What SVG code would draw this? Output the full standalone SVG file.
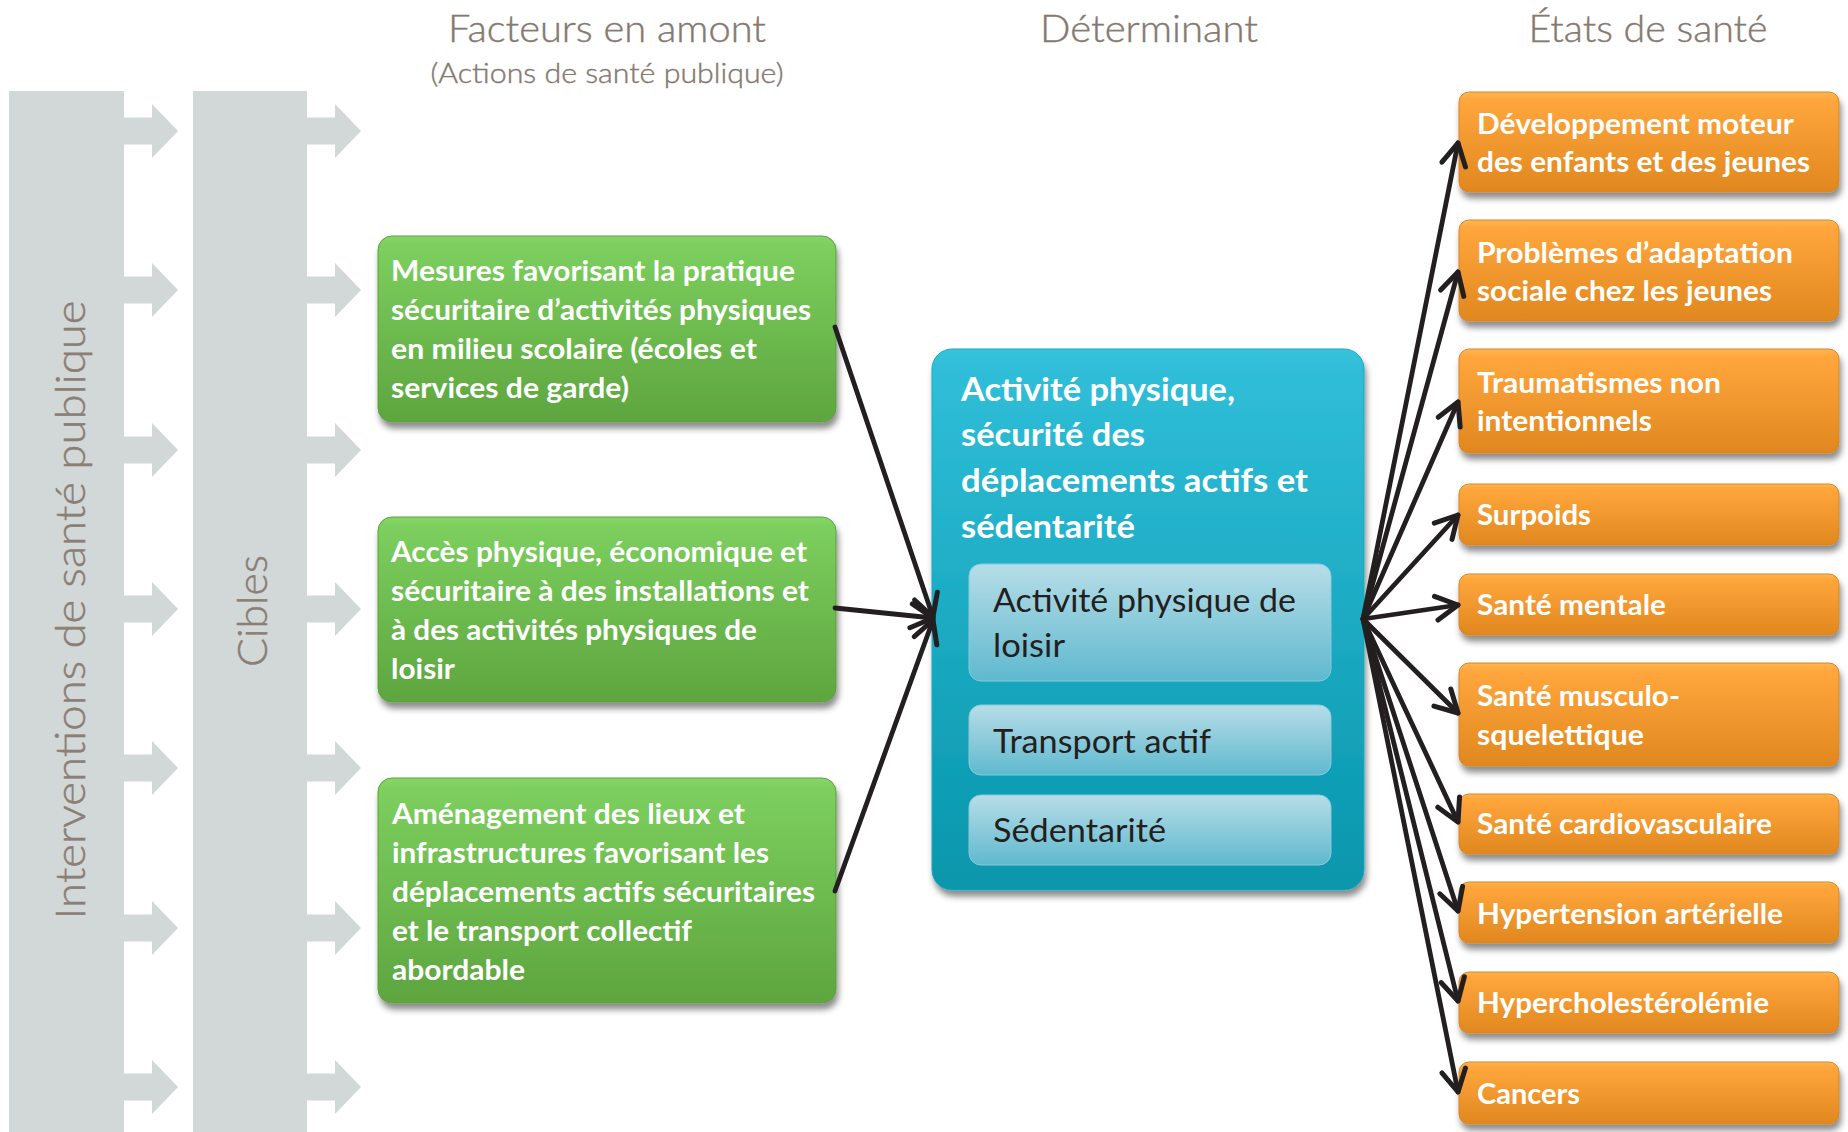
<svg xmlns="http://www.w3.org/2000/svg" width="1848" height="1132" viewBox="0 0 1848 1132">
<defs>
<style>
.hdr{font-family:Lato,"Liberation Sans",sans-serif;font-weight:300;fill:#857970;stroke:#857970;stroke-width:0.4;}
.rot{font-family:Lato,"Liberation Sans",sans-serif;font-weight:300;fill:#8A7E76;stroke:#8A7E76;stroke-width:0.5;font-size:42px;}
.bt{font-family:Lato,"Liberation Sans",sans-serif;font-weight:700;fill:#FFFFFF;font-size:28px;}
.bl{font-family:Lato,"Liberation Sans",sans-serif;font-weight:700;fill:#FFFFFF;font-size:32.5px;}
.st{font-family:Lato,"Liberation Sans",sans-serif;font-weight:400;fill:#231F20;font-size:33px;}
.bar{fill:#D2D8D8;}
.gbox{fill:url(#gGreen);stroke:#5E9F40;stroke-width:1;}
.obox{fill:url(#gOrange);stroke:#D98420;stroke-width:1;}
.sub{fill:url(#gSub);stroke:#86CADB;stroke-width:1;}
.con{fill:none;stroke:#231F20;stroke-width:4.8;stroke-linecap:round;marker-end:url(#ah);}
</style>
<linearGradient id="gGreen" x1="0" y1="0" x2="0" y2="1">
<stop offset="0" stop-color="#86D668"/>
<stop offset="0.05" stop-color="#7CCF5E"/>
<stop offset="1" stop-color="#5EA53F"/>
</linearGradient>
<linearGradient id="gOrange" x1="0" y1="0" x2="0" y2="1">
<stop offset="0" stop-color="#FFB653"/>
<stop offset="0.08" stop-color="#FFA63C"/>
<stop offset="1" stop-color="#E0871F"/>
</linearGradient>
<linearGradient id="gBlue" x1="0" y1="0" x2="0" y2="1">
<stop offset="0" stop-color="#38C3DC"/>
<stop offset="0.03" stop-color="#30BED8"/>
<stop offset="1" stop-color="#0796AC"/>
</linearGradient>
<linearGradient id="gSub" x1="0" y1="0" x2="0" y2="1">
<stop offset="0" stop-color="#B7DDE7"/>
<stop offset="1" stop-color="#5FB9CF"/>
</linearGradient>
<filter id="sh" x="-10%" y="-10%" width="125%" height="130%">
<feDropShadow dx="2" dy="6" stdDeviation="3" flood-color="#000000" flood-opacity="0.45"/>
</filter>
<polygon id="garrow" points="0,-13.5 28,-13.5 28,-27 54,0 28,27 28,13.5 0,13.5"/>
<marker id="ah" markerUnits="userSpaceOnUse" markerWidth="40" markerHeight="40" viewBox="-30 -20 40 40" refX="0" refY="0" orient="auto" overflow="visible">
<path d="M-22,-12 L0,0 L-22,12" fill="none" stroke="#231F20" stroke-width="5" stroke-linecap="round" stroke-linejoin="round"/>
</marker>
</defs>

<rect width="1848" height="1132" fill="#FFFFFF"/>

<g id="headers">
<text class="hdr" x="607" y="42" font-size="37" text-anchor="middle" textLength="318" lengthAdjust="spacingAndGlyphs">Facteurs en amont</text>
<text class="hdr" x="607" y="83" font-size="27" text-anchor="middle" textLength="353" lengthAdjust="spacingAndGlyphs">(Actions de santé publique)</text>
<text class="hdr" x="1149" y="42" font-size="37" text-anchor="middle" textLength="218" lengthAdjust="spacingAndGlyphs">Déterminant</text>
<text class="hdr" x="1648" y="42" font-size="37" text-anchor="middle" textLength="239" lengthAdjust="spacingAndGlyphs">États de santé</text>
</g>

<g id="interventions">
<rect class="bar" x="9" y="91" width="115" height="1041"/>
<g class="bar">
<use href="#garrow" x="124" y="131"/>
<use href="#garrow" x="124" y="290"/>
<use href="#garrow" x="124" y="450"/>
<use href="#garrow" x="124" y="609"/>
<use href="#garrow" x="124" y="768"/>
<use href="#garrow" x="124" y="928"/>
<use href="#garrow" x="124" y="1087"/>
</g>
<text class="rot" transform="translate(85,610) rotate(-90)" text-anchor="middle" textLength="619" lengthAdjust="spacingAndGlyphs">Interventions de santé publique</text>
</g>

<g id="cibles">
<rect class="bar" x="193" y="91" width="114" height="1041"/>
<g class="bar">
<use href="#garrow" x="307" y="131"/>
<use href="#garrow" x="307" y="290"/>
<use href="#garrow" x="307" y="450"/>
<use href="#garrow" x="307" y="609"/>
<use href="#garrow" x="307" y="768"/>
<use href="#garrow" x="307" y="928"/>
<use href="#garrow" x="307" y="1087"/>
</g>
<text class="rot" transform="translate(267,611) rotate(-90)" text-anchor="middle" textLength="112" lengthAdjust="spacingAndGlyphs">Cibles</text>
</g>

<g id="facteur-1">
<rect class="gbox" x="378" y="236" width="458" height="186" rx="14" filter="url(#sh)"/>
<text class="bt" x="391" y="281" textLength="404" lengthAdjust="spacingAndGlyphs">Mesures favorisant la pratique</text>
<text class="bt" x="391" y="320" textLength="420" lengthAdjust="spacingAndGlyphs">sécuritaire d’activités physiques</text>
<text class="bt" x="391" y="359" textLength="366" lengthAdjust="spacingAndGlyphs">en milieu scolaire (écoles et</text>
<text class="bt" x="391" y="398" textLength="238" lengthAdjust="spacingAndGlyphs">services de garde)</text>
</g>

<g id="facteur-2">
<rect class="gbox" x="378" y="517" width="458" height="185" rx="14" filter="url(#sh)"/>
<text class="bt" x="391" y="562" textLength="416" lengthAdjust="spacingAndGlyphs">Accès physique, économique et</text>
<text class="bt" x="391" y="601" textLength="418" lengthAdjust="spacingAndGlyphs">sécuritaire à des installations et</text>
<text class="bt" x="391" y="640" textLength="366" lengthAdjust="spacingAndGlyphs">à des activités physiques de</text>
<text class="bt" x="391" y="679" textLength="64" lengthAdjust="spacingAndGlyphs">loisir</text>
</g>

<g id="facteur-3">
<rect class="gbox" x="378" y="778" width="458" height="225" rx="14" filter="url(#sh)"/>
<text class="bt" x="392" y="824" textLength="353" lengthAdjust="spacingAndGlyphs">Aménagement des lieux et</text>
<text class="bt" x="392" y="863" textLength="377" lengthAdjust="spacingAndGlyphs">infrastructures favorisant les</text>
<text class="bt" x="392" y="902" textLength="423" lengthAdjust="spacingAndGlyphs">déplacements actifs sécuritaires</text>
<text class="bt" x="392" y="941" textLength="300" lengthAdjust="spacingAndGlyphs">et le transport collectif</text>
<text class="bt" x="392" y="980" textLength="133" lengthAdjust="spacingAndGlyphs">abordable</text>
</g>

<g id="determinant">
<rect x="932" y="349" width="432" height="541" rx="20" fill="url(#gBlue)" stroke="#1AA9C2" stroke-width="1" filter="url(#sh)"/>
<text class="bl" x="961" y="401" textLength="274" lengthAdjust="spacingAndGlyphs">Activité physique,</text>
<text class="bl" x="961" y="446" textLength="184" lengthAdjust="spacingAndGlyphs">sécurité des</text>
<text class="bl" x="961" y="492" textLength="347" lengthAdjust="spacingAndGlyphs">déplacements actifs et</text>
<text class="bl" x="961" y="538" textLength="174" lengthAdjust="spacingAndGlyphs">sédentarité</text>
<g id="sub-loisir">
<rect class="sub" x="969" y="564" width="362" height="117" rx="12"/>
<text class="st" x="993" y="612" textLength="303" lengthAdjust="spacingAndGlyphs">Activité physique de</text>
<text class="st" x="993" y="657" textLength="72" lengthAdjust="spacingAndGlyphs">loisir</text>
</g>
<g id="sub-transport">
<rect class="sub" x="969" y="705" width="362" height="70" rx="12"/>
<text class="st" x="993" y="753" textLength="218" lengthAdjust="spacingAndGlyphs">Transport actif</text>
</g>
<g id="sub-sedentarite">
<rect class="sub" x="969" y="795" width="362" height="70" rx="12"/>
<text class="st" x="993" y="842" textLength="173" lengthAdjust="spacingAndGlyphs">Sédentarité</text>
</g>
</g>

<g id="etat-1">
<rect class="obox" x="1459" y="92" width="380" height="100" rx="10" filter="url(#sh)"/>
<text class="bt" x="1477" y="134" textLength="317" lengthAdjust="spacingAndGlyphs">Développement moteur</text>
<text class="bt" x="1477" y="172" textLength="333" lengthAdjust="spacingAndGlyphs">des enfants et des jeunes</text>
</g>
<g id="etat-2">
<rect class="obox" x="1459" y="220" width="380" height="101" rx="10" filter="url(#sh)"/>
<text class="bt" x="1477" y="263" textLength="316" lengthAdjust="spacingAndGlyphs">Problèmes d’adaptation</text>
<text class="bt" x="1477" y="301" textLength="295" lengthAdjust="spacingAndGlyphs">sociale chez les jeunes</text>
</g>
<g id="etat-3">
<rect class="obox" x="1459" y="349" width="380" height="104" rx="10" filter="url(#sh)"/>
<text class="bt" x="1477" y="393" textLength="244" lengthAdjust="spacingAndGlyphs">Traumatismes non</text>
<text class="bt" x="1477" y="431" textLength="175" lengthAdjust="spacingAndGlyphs">intentionnels</text>
</g>
<g id="etat-4">
<rect class="obox" x="1459" y="484" width="380" height="61" rx="10" filter="url(#sh)"/>
<text class="bt" x="1477" y="525" textLength="114" lengthAdjust="spacingAndGlyphs">Surpoids</text>
</g>
<g id="etat-5">
<rect class="obox" x="1459" y="574" width="380" height="61" rx="10" filter="url(#sh)"/>
<text class="bt" x="1477" y="615" textLength="189" lengthAdjust="spacingAndGlyphs">Santé mentale</text>
</g>
<g id="etat-6">
<rect class="obox" x="1459" y="663" width="380" height="103" rx="10" filter="url(#sh)"/>
<text class="bt" x="1477" y="706" textLength="203" lengthAdjust="spacingAndGlyphs">Santé musculo-</text>
<text class="bt" x="1477" y="745" textLength="167" lengthAdjust="spacingAndGlyphs">squelettique</text>
</g>
<g id="etat-7">
<rect class="obox" x="1459" y="794" width="380" height="60" rx="10" filter="url(#sh)"/>
<text class="bt" x="1477" y="834" textLength="295" lengthAdjust="spacingAndGlyphs">Santé cardiovasculaire</text>
</g>
<g id="etat-8">
<rect class="obox" x="1459" y="882" width="380" height="61" rx="10" filter="url(#sh)"/>
<text class="bt" x="1477" y="924" textLength="306" lengthAdjust="spacingAndGlyphs">Hypertension artérielle</text>
</g>
<g id="etat-9">
<rect class="obox" x="1459" y="972" width="380" height="61" rx="10" filter="url(#sh)"/>
<text class="bt" x="1477" y="1013" textLength="292" lengthAdjust="spacingAndGlyphs">Hypercholestérolémie</text>
</g>
<g id="etat-10">
<rect class="obox" x="1459" y="1062" width="380" height="62" rx="10" filter="url(#sh)"/>
<text class="bt" x="1477" y="1104" textLength="103" lengthAdjust="spacingAndGlyphs">Cancers</text>
</g>

<g id="connectors">
<path class="con" d="M835,327 L933,617"/>
<path class="con" d="M835,608 L933,618"/>
<path class="con" d="M835,891 L933,620"/>
<path class="con" d="M1363,619 L1458,143"/>
<path class="con" d="M1363,619 L1458,272"/>
<path class="con" d="M1363,619 L1458,402"/>
<path class="con" d="M1363,619 L1458,515"/>
<path class="con" d="M1363,619 L1458,605"/>
<path class="con" d="M1363,619 L1458,713"/>
<path class="con" d="M1363,619 L1458,822"/>
<path class="con" d="M1363,619 L1458,911"/>
<path class="con" d="M1363,619 L1458,1001"/>
<path class="con" d="M1363,619 L1458,1092"/>
</g>
</svg>
